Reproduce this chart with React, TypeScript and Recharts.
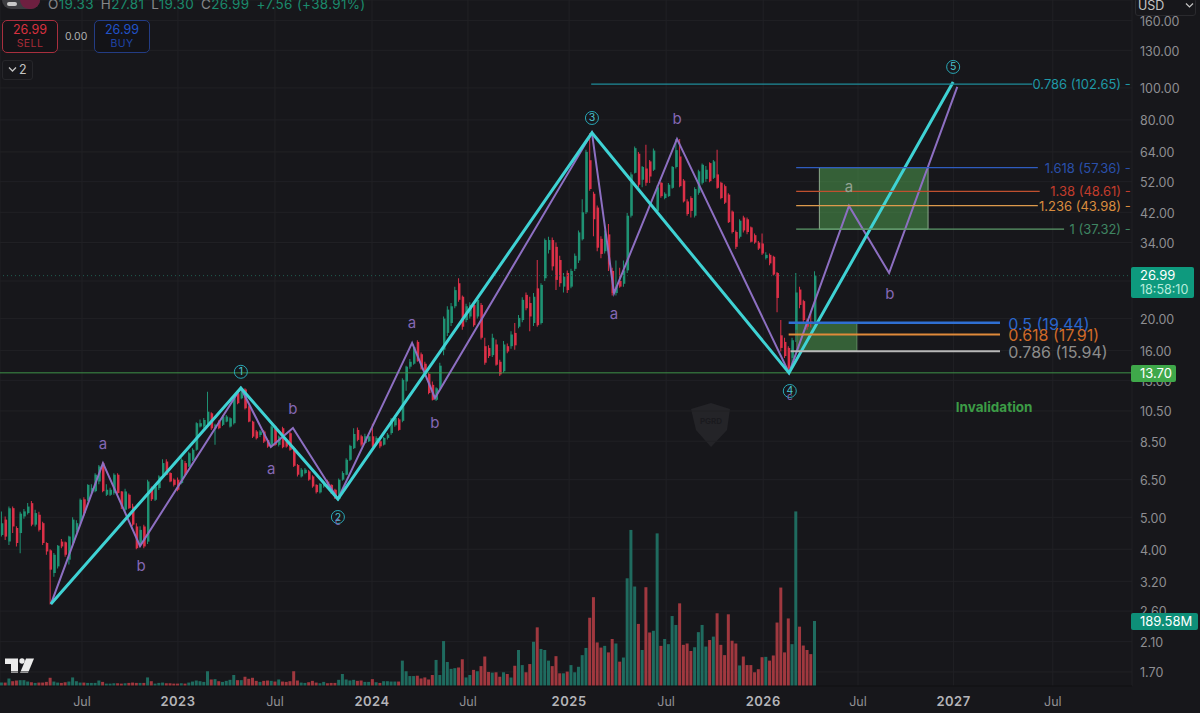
// App.tsx - weekly candles with Elliott wave count and fib levels
import React from "react";
import {
  Bar,
  CartesianGrid,
  Cell,
  ComposedChart,
  Line,
  ReferenceArea,
  ReferenceDot,
  ReferenceLine,
  XAxis,
  YAxis,
} from "recharts";

const FONT = "Inter, 'Noto Sans', sans-serif";
const BG = "#17171b";
const UP = "#1f9273";
const DOWN = "#dc3048";
const VOL_UP = "#1f6b5f";
const VOL_DOWN = "#a0383f";

// weekly candles, oldest first
const opens = [
  4.42, 4.92, 4.22, 5.33, 4.64, 4.48, 5.03, 5.15, 5.52, 4.75,
  5.09, 4.8, 4.18, 3.97, 3.39, 3.55, 4.22, 4.2, 3.72, 4.18,
  4.58, 4.8, 5.67, 5.65, 5.92, 6.0, 6.42, 7.3, 5.85, 5.85,
  5.92, 6.73, 5.99, 5.27, 5.85, 5.39, 4.69, 4.13, 4.69, 4.22,
  6.13, 5.65, 6.13, 6.73, 7.38, 6.81, 6.5, 6.5, 6.35, 7.3,
  7.13, 7.47, 8.01, 9.42, 9.42, 9.64, 10.33, 9.3, 9.75, 9.53,
  9.75, 9.42, 9.64, 11.88, 11.47, 12.2, 10.83, 9.75, 9.1, 8.88,
  9.1, 8.58, 8.29, 9.42, 8.29, 9.31, 8.58, 8.99, 8.1, 7.2,
  6.65, 6.81, 6.89, 6.65, 6.27, 5.95, 6.2, 6.42, 6.27, 6.06,
  5.68, 6.5, 6.73, 7.47, 8.1, 9.2, 8.8, 8.4, 8.5, 8.8,
  8.4, 8.5, 8.3, 8.7, 9.0, 9.5, 9.9, 9.8, 12.9, 14.3,
  14.6, 17.0, 15.6, 14.6, 13.6, 12.6, 11.35, 12.3, 16.1, 18.1,
  19.4, 21.8, 25.6, 23.3, 19.8, 20.3, 22.0, 20.3, 22.0, 16.5,
  16.3, 15.5, 16.7, 14.8, 13.85, 16.5, 16.5, 18.1, 18.9, 19.8,
  23.6, 22.3, 19.4, 24.7, 19.4, 26.5, 32.3, 34.6, 33.0, 30.1,
  25.0, 27.5, 25.0, 28.3, 30.0, 34.8, 42.0, 60.4, 47.8, 43.4,
  34.9, 32.0, 36.0, 27.9, 23.9, 26.0, 25.5, 28.0, 41.0, 55.3,
  63.2, 52.7, 57.0, 59.9, 56.5, 42.4, 51.6, 46.4, 47.0, 49.8,
  57.6, 62.0, 52.4, 45.3, 46.4, 41.0, 48.1, 51.6, 53.0, 59.2,
  53.4, 54.7, 51.6, 50.4, 47.5, 42.2, 36.6, 35.4, 40.5, 40.0,
  37.8, 35.8, 34.0, 33.8, 30.5, 31.2, 30.8, 27.5, 17.8, 17.0,
  16.3, 15.2, 18.5, 24.5, 22.6, 19.8, 19.6, 19.33,
];
const highs = [
  5.21, 5.03, 5.39, 5.39, 4.7, 5.2, 5.3, 5.52, 5.6, 5.27,
  5.2, 4.85, 4.2, 4.0, 3.9, 4.12, 4.3, 4.22, 4.4, 5.0,
  4.9, 5.7, 5.75, 6.3, 6.3, 6.8, 7.2, 7.35, 6.3, 6.15,
  6.8, 6.8, 6.0, 6.1, 5.9, 5.5, 4.8, 4.7, 4.75, 6.5,
  6.2, 6.27, 6.7, 7.5, 7.5, 6.85, 6.55, 6.6, 7.55, 7.4,
  7.9, 8.1, 9.7, 9.9, 10.0, 12.0, 10.4, 9.6, 9.85, 10.2,
  10.2, 10.05, 11.6, 12.0, 12.35, 12.3, 10.9, 9.8, 9.2, 9.2,
  9.2, 8.65, 9.5, 9.5, 8.85, 9.4, 8.65, 9.1, 8.2, 7.25,
  7.05, 7.05, 6.95, 6.7, 6.3, 6.35, 6.42, 6.5, 6.3, 6.1,
  6.55, 6.9, 7.55, 8.3, 9.3, 9.35, 8.9, 8.95, 8.9, 9.6,
  8.8, 8.6, 8.75, 9.0, 10.0, 10.2, 10.0, 13.2, 14.4, 15.1,
  16.7, 17.2, 15.8, 14.8, 13.7, 12.9, 12.4, 14.7, 20.3, 21.8,
  22.3, 25.0, 26.5, 23.5, 22.2, 22.4, 22.3, 23.0, 22.3, 17.5,
  16.6, 18.0, 17.3, 15.0, 17.1, 16.8, 18.3, 19.4, 20.5, 23.2,
  24.0, 23.3, 23.9, 30.1, 25.6, 35.0, 35.4, 35.2, 34.0, 31.0,
  27.5, 28.0, 28.3, 31.5, 37.0, 46.0, 65.0, 73.0, 48.5, 44.0,
  35.5, 37.0, 38.7, 28.5, 30.0, 28.5, 30.0, 41.8, 55.5, 66.5,
  64.0, 58.0, 67.3, 60.5, 65.5, 50.7, 52.0, 48.3, 51.5, 58.0,
  70.0, 70.0, 53.0, 46.0, 47.0, 50.0, 56.5, 59.0, 58.0, 59.5,
  60.5, 65.0, 52.0, 51.0, 48.0, 42.5, 37.0, 40.0, 41.0, 40.5,
  38.0, 36.2, 34.4, 36.2, 31.8, 31.5, 31.0, 27.7, 19.8, 17.5,
  16.5, 17.5, 27.5, 25.0, 22.8, 20.0, 21.0, 27.81,
];
const lows = [
  4.37, 4.27, 4.12, 4.48, 4.08, 3.89, 4.95, 5.1, 4.7, 4.69,
  4.53, 4.12, 3.85, 2.72, 3.3, 3.5, 4.03, 3.8, 3.6, 4.1,
  4.5, 4.75, 5.05, 5.6, 5.85, 5.95, 6.3, 5.95, 5.8, 5.8,
  5.85, 5.85, 5.3, 5.2, 5.3, 4.7, 4.0, 4.08, 4.03, 4.15,
  5.6, 5.6, 6.05, 6.65, 6.7, 6.38, 6.2, 6.0, 6.3, 6.7,
  7.1, 7.4, 7.95, 9.35, 9.3, 9.5, 9.2, 8.3, 9.25, 9.45,
  9.7, 9.35, 9.55, 11.0, 11.4, 10.6, 9.7, 8.7, 8.6, 8.75,
  8.4, 8.12, 8.2, 8.22, 8.2, 8.1, 8.12, 7.95, 7.1, 6.65,
  6.6, 6.75, 6.45, 6.15, 5.9, 5.9, 6.15, 6.1, 5.88, 5.68,
  5.62, 6.45, 6.7, 7.4, 8.05, 8.5, 8.2, 8.35, 8.45, 8.15,
  8.35, 8.1, 8.25, 8.6, 8.9, 9.4, 9.15, 9.7, 12.1, 14.1,
  14.5, 14.8, 14.0, 13.4, 11.8, 11.3, 11.25, 12.2, 15.5, 17.7,
  19.0, 21.5, 22.5, 18.5, 19.5, 20.0, 18.9, 20.0, 17.3, 14.5,
  15.2, 15.3, 14.4, 13.4, 13.7, 15.7, 16.2, 16.1, 18.7, 19.5,
  21.2, 18.3, 19.0, 18.9, 19.2, 26.0, 31.5, 28.0, 24.4, 25.0,
  24.0, 23.9, 24.7, 27.9, 29.5, 34.5, 41.5, 48.8, 35.5, 32.0,
  30.5, 31.5, 27.9, 23.5, 23.5, 24.8, 25.0, 27.5, 40.5, 55.0,
  50.0, 50.0, 50.5, 51.5, 56.0, 42.0, 46.5, 46.0, 46.8, 49.5,
  57.0, 50.0, 45.0, 41.0, 40.5, 40.5, 47.5, 51.0, 52.0, 51.8,
  53.0, 49.5, 46.0, 44.5, 39.0, 36.2, 32.5, 35.0, 36.5, 36.0,
  34.0, 33.7, 32.3, 31.2, 30.2, 29.0, 27.0, 20.9, 15.9, 15.2,
  13.7, 14.1, 17.0, 21.5, 19.5, 18.5, 18.8, 19.3,
];
const closes = [
  4.8, 4.37, 5.33, 4.69, 4.18, 5.13, 5.21, 5.39, 4.75, 5.15,
  4.58, 4.18, 3.94, 3.47, 3.85, 4.1, 4.08, 3.85, 4.37, 4.92,
  4.8, 5.65, 5.15, 6.27, 6.13, 6.73, 7.13, 6.0, 6.06, 6.06,
  6.73, 5.92, 5.39, 5.99, 5.33, 4.75, 4.03, 4.58, 4.08, 6.42,
  5.67, 6.2, 6.65, 7.3, 6.73, 6.42, 6.27, 6.06, 7.47, 6.73,
  7.82, 8.01, 9.64, 9.64, 9.86, 10.45, 9.3, 9.53, 9.31, 10.1,
  10.1, 9.98, 11.47, 11.08, 12.3, 10.7, 9.75, 8.78, 8.68, 9.1,
  8.48, 8.19, 9.42, 8.29, 8.78, 8.15, 8.19, 8.01, 7.16, 6.73,
  6.97, 6.97, 6.5, 6.2, 5.96, 6.31, 6.35, 6.13, 5.92, 5.71,
  6.5, 6.81, 7.47, 8.23, 8.94, 8.58, 8.3, 8.8, 8.8, 8.2,
  8.7, 8.2, 8.7, 8.9, 9.9, 10.0, 9.2, 13.05, 14.3, 14.8,
  16.4, 14.9, 14.1, 13.6, 11.9, 11.35, 12.3, 14.4, 20.0, 21.3,
  21.8, 24.4, 22.8, 18.9, 21.8, 22.0, 19.1, 22.8, 17.5, 14.7,
  15.4, 17.5, 14.5, 13.55, 16.7, 15.9, 17.9, 16.6, 20.1, 22.8,
  21.5, 20.3, 23.3, 19.1, 25.3, 34.6, 34.6, 28.8, 26.2, 25.6,
  26.8, 24.4, 27.9, 31.0, 36.5, 42.0, 64.0, 49.4, 40.0, 32.8,
  31.4, 36.0, 29.2, 23.9, 25.0, 25.0, 28.0, 41.0, 54.7, 65.7,
  50.9, 57.6, 51.6, 53.9, 64.6, 50.0, 47.0, 47.8, 50.9, 57.6,
  64.8, 50.4, 45.3, 41.5, 42.4, 49.4, 55.9, 58.5, 56.5, 52.2,
  59.9, 49.8, 46.4, 44.9, 39.2, 36.6, 33.0, 39.6, 37.0, 36.6,
  34.2, 34.0, 32.6, 31.5, 31.2, 29.4, 27.2, 23.1, 16.3, 15.4,
  14.1, 17.2, 24.0, 22.0, 19.8, 18.9, 19.33, 26.99,
];
// volume in millions
const volumes = [
  10, 10, 22, 14, 16, 17, 17, 13, 11, 9,
  10, 10, 12, 24, 13, 10, 9, 11, 13, 25,
  14, 10, 10, 9, 9, 9, 16, 12, 7, 7,
  8, 8, 7, 8, 9, 10, 9, 9, 9, 25,
  14, 7, 9, 10, 8, 8, 7, 7, 8, 7,
  10, 13, 16, 14, 12, 43, 19, 20, 14, 12,
  15, 18, 32, 17, 17, 27, 21, 24, 15, 12,
  15, 16, 15, 13, 19, 13, 12, 14, 43, 16,
  10, 9, 11, 15, 10, 8, 12, 8, 9, 9,
  18, 35, 19, 16, 18, 15, 16, 12, 12, 20,
  11, 9, 14, 14, 13, 13, 13, 74, 43, 29,
  29, 30, 22, 25, 19, 32, 76, 32, 131, 70,
  50, 52, 54, 78, 25, 32, 47, 43, 58, 86,
  41, 39, 40, 27, 40, 35, 25, 59, 105, 61,
  40, 64, 129, 171, 108, 105, 74, 58, 87, 37,
  37, 42, 61, 40, 56, 90, 111, 199, 259, 127,
  112, 117, 98, 137, 124, 71, 83, 314, 455, 290,
  181, 105, 288, 156, 161, 445, 117, 137, 122, 204,
  178, 241, 120, 124, 102, 113, 157, 178, 115, 134,
  144, 212, 120, 90, 209, 132, 124, 60, 86, 61,
  61, 40, 49, 84, 85, 74, 89, 185, 287, 98,
  197, 122, 509, 173, 118, 105, 93, 189.58,
];

// wave counts: week index and price of each pivot
const mainWave = [
  { i: 13.1, price: 2.73 },
  { i: 63.8, price: 12.33 },
  { i: 89.7, price: 5.68 },
  { i: 157.5, price: 73.1 },
  { i: 210.1, price: 13.69 },
  { i: 253.9, price: 104.3 },
];
const subWave = [
  { i: 13.1, price: 2.73 },
  { i: 27, price: 7.3 },
  { i: 36.9, price: 4.09 },
  { i: 63.8, price: 12.33 },
  { i: 71.8, price: 8.17 },
  { i: 77.7, price: 9.33 },
  { i: 89.7, price: 5.68 },
  { i: 109.5, price: 16.88 },
  { i: 115.6, price: 11.5 },
  { i: 157.5, price: 73.1 },
  { i: 163.4, price: 23.9 },
  { i: 180.2, price: 70.1 },
  { i: 210.1, price: 13.69 },
  { i: 226.1, price: 43.9 },
  { i: 236.8, price: 27.5 },
  { i: 255, price: 100.7 },
];

const waveNumbers = [
  { text: "1", i: 63.8, price: 13.8 },
  { text: "2", i: 89.7, price: 5.01 },
  { text: "3", i: 157.5, price: 81.1 },
  { text: "4", i: 210.3, price: 12.07 },
  { text: "5", i: 253.9, price: 115.8 },
];
const waveLetters = [
  { text: "a", i: 27, price: 8.34 },
  { text: "b", i: 37.2, price: 3.56 },
  { text: "a", i: 71.9, price: 7.01 },
  { text: "b", i: 77.7, price: 10.65 },
  { text: "a", i: 109.5, price: 19.4 },
  { text: "b", i: 115.6, price: 9.66 },
  { text: "a", i: 163.4, price: 20.7 },
  { text: "b", i: 180.2, price: 80.6 },
  { text: "b", i: 237, price: 23.8 },
];
// small sub-wave letters tucked under the circled numbers
const waveEnds = [
  { text: "c", i: 89.7, price: 4.86 },
  { text: "c", i: 210.3, price: 11.62 },
];

const priceTicks = [1.7, 2.1, 2.6, 3.2, 4, 5, 6.5, 8.5, 10.5, 13, 16, 20, 26, 34, 42, 52, 64, 80, 100, 130, 160];
const timeTicks = [21.4, 47, 72.9, 98.8, 124.4, 151.4, 177.3, 203.2, 228.5, 254, 280.5];
const timeLabels = ["Jul", "2023", "Jul", "2024", "Jul", "2025", "Jul", "2026", "Jul", "2027", "Jul"];

const X_DOMAIN = [-0.48, 301.63];
const Y_DOMAIN = [1.541, 184.7];

const candles = closes.map((close, i) => ({
  i,
  open: opens[i],
  high: highs[i],
  low: lows[i],
  close,
  volume: volumes[i],
}));

const isUp = (d: { open: number; close: number }) => d.close >= d.open;

const TimeTick = (props: any) => {
  const { x, y, payload } = props;
  const label = timeLabels[timeTicks.indexOf(payload.value)];
  const isYear = label !== "Jul";
  return (
    <text
      x={x}
      y={y + 12}
      textAnchor="middle"
      fontFamily={FONT}
      fontSize={isYear ? 13 : 12.5}
      fontWeight={isYear ? 600 : 400}
      letterSpacing={isYear ? 0.5 : 0}
      fill={isYear ? "#b4b4b8" : "#909094"}
    >
      {label}
    </text>
  );
};

// text placed in chart coordinates
const note = (key: string, text: string, i: number, price: number, style: any) => (
  <ReferenceDot
    key={key}
    x={i}
    y={price}
    r={0}
    ifOverflow="visible"
    shape={(p: any) => (
      <text x={p.cx} y={p.cy} dominantBaseline="central" fontFamily={FONT} {...style}>
        {text}
      </text>
    )}
  />
);

const waveRing = (key: string, text: string, i: number, price: number) => (
  <ReferenceDot
    key={key}
    x={i}
    y={price}
    r={0}
    ifOverflow="visible"
    shape={(p: any) => (
      <g>
        <circle cx={p.cx} cy={p.cy} r={6.5} fill="none" stroke="#29a9b8" strokeWidth={1} />
        <text
          x={p.cx}
          y={p.cy}
          textAnchor="middle"
          dominantBaseline="central"
          fontFamily={FONT}
          fontSize={10.5}
          fill="#4cc4d0"
        >
          {text}
        </text>
      </g>
    )}
  />
);

const fibLine = (p: number, from: number, to: number, color: string, width: number) => (
  <ReferenceLine
    key={`${p}-${from}`}
    segment={[
      { x: from, y: p },
      { x: to, y: p },
    ]}
    stroke={color}
    strokeWidth={width}
    ifOverflow="visible"
  />
);

const tag = (top: number, left: number, width: number, height: number, background: string): React.CSSProperties => ({
  position: "absolute",
  top,
  left,
  width,
  height,
  background,
  borderRadius: 2,
  fontFamily: FONT,
  color: "#fff",
  textAlign: "left",
  paddingLeft: 9,
  boxSizing: "border-box",
});

const tradeBox = (left: number, border: string): React.CSSProperties => ({
  position: "absolute",
  top: 20,
  left,
  width: 56,
  height: 33,
  border: `1px solid ${border}`,
  borderRadius: 5,
  boxSizing: "border-box",
  background: "#131317",
  textAlign: "center",
  fontFamily: FONT,
});

const Header = () => {
  const item = (k: string, v: string) => (
    <span style={{ marginRight: 7 }}>
      <span style={{ color: "#86868a" }}>{k}</span>
      <span style={{ color: "#1b8a6c" }}>{v}</span>
    </span>
  );
  return (
    <>
      <div style={{ position: "absolute", top: -9, left: 2, width: 38, height: 18, borderRadius: 9, background: "#3c3c40" }} />
      <div style={{ position: "absolute", top: -9, left: 20, width: 20, height: 18, borderRadius: 9, background: "#6e1f40" }} />
      <div style={{ position: "absolute", top: 2, left: 7, width: 10, height: 4, borderRadius: 2, background: "#c8c8c8" }} />
      <div style={{ position: "absolute", top: -4, left: 48, fontFamily: FONT, fontSize: 13.5, whiteSpace: "nowrap", letterSpacing: 0.3 }}>
        {item("O", "19.33")}
        {item("H", "27.81")}
        {item("L", "19.30")}
        {item("C", "26.99")}
        <span style={{ color: "#1b8a6c" }}>+7.56 (+38.91%)</span>
      </div>
      <div style={tradeBox(2, "#a82f3e")}>
        <div style={{ color: "#d8313f", fontSize: 12.5, lineHeight: "15px", marginTop: 1 }}>26.99</div>
        <div style={{ color: "#a82c38", fontSize: 10.5, lineHeight: "13px", letterSpacing: 0.4 }}>SELL</div>
      </div>
      <div style={{ position: "absolute", top: 30, left: 65, color: "#b0b0b0", fontFamily: FONT, fontSize: 10.5 }}>0.00</div>
      <div style={tradeBox(94, "#233c84")}>
        <div style={{ color: "#2152c8", fontSize: 12.5, lineHeight: "15px", marginTop: 1 }}>26.99</div>
        <div style={{ color: "#1f45a8", fontSize: 10.5, lineHeight: "13px", letterSpacing: 0.4 }}>BUY</div>
      </div>
      <div
        style={{
          position: "absolute",
          top: 60,
          left: 2,
          width: 31,
          height: 20,
          border: "1px solid #26262a",
          borderRadius: 3,
          boxSizing: "border-box",
          color: "#c4c4c4",
          fontFamily: FONT,
          fontSize: 12.5,
          lineHeight: "18px",
          paddingLeft: 16,
        }}
      >
        2
      </div>
      <svg style={{ position: "absolute", top: 66, left: 8 }} width={9} height={7}>
        <path d="M1 1.5 L4.5 5 L8 1.5" fill="none" stroke="#c4c4c4" strokeWidth={1.3} />
      </svg>
      <div
        style={{
          position: "absolute",
          top: -2,
          left: 1135,
          width: 61,
          height: 18,
          border: "1px solid #2a2a2e",
          borderRadius: 3,
          boxSizing: "border-box",
          background: BG,
          color: "#c4c4c4",
          fontFamily: FONT,
          fontSize: 12.5,
          lineHeight: "14px",
          paddingLeft: 2,
        }}
      >
        USD
      </div>
      <svg style={{ position: "absolute", top: 2, left: 1185 }} width={9} height={7}>
        <path d="M1 1.5 L4.5 5 L8 1.5" fill="none" stroke="#c4c4c4" strokeWidth={1.2} />
      </svg>
    </>
  );
};

const Decor = () => (
  <svg style={{ position: "absolute", top: 0, left: 0, pointerEvents: "none" }} width={1200} height={713}>
    {/* tradingview mark */}
    <path d="M5 658.5 H18 V673 H11 V664 H5 Z" fill="#ececec" />
    <circle cx={22} cy={661} r={2.7} fill="#ececec" />
    <path d="M26 658.5 H34 L28 673 H20 Z" fill="#ececec" />
    {/* faint watermark */}
    <path d="M691 409 L711 403 L730 409 L727 430 L711 447 L696 430 Z" fill="#242428" />
    <text x={711} y={424} textAnchor="middle" fontFamily={FONT} fontSize={8} fontWeight={700} fill="#1a1a1e">
      PGRD
    </text>
  </svg>
);

export default function App() {
  return (
    <div style={{ position: "fixed", top: 0, left: 0, width: 1200, height: 713, background: BG, overflow: "hidden" }}>
      <Decor />
      <div style={{ position: "absolute", top: 0, left: 0 }}>
        <ComposedChart width={1200} height={713} data={candles} margin={{ top: 0, right: 0, bottom: 0, left: 0 }}>
          <CartesianGrid stroke="#212125" strokeWidth={1} />
          <XAxis
            type="number"
            dataKey="i"
            domain={X_DOMAIN}
            allowDataOverflow
            ticks={timeTicks}
            interval={0}
            height={27}
            axisLine={{ stroke: "#0c0c0e" }}
            tickLine={false}
            tick={<TimeTick />}
          />
          <XAxis xAxisId="vol" type="number" dataKey="i" domain={X_DOMAIN} allowDataOverflow hide />
          <XAxis xAxisId="wick" type="number" dataKey="i" domain={X_DOMAIN} allowDataOverflow hide />
          <XAxis xAxisId="body" type="number" dataKey="i" domain={X_DOMAIN} allowDataOverflow hide />
          <YAxis
            orientation="right"
            width={68}
            type="number"
            scale="log"
            domain={Y_DOMAIN}
            allowDataOverflow
            ticks={priceTicks}
            interval={0}
            axisLine={false}
            tickLine={false}
            tickMargin={2}
            tick={{ fill: "#8e8e92", fontSize: 12.5, fontFamily: FONT, dy: 1 }}
            tickFormatter={(v: number) => v.toFixed(2)}
          />
          <YAxis yAxisId="vol" type="number" domain={[0, 2000]} hide />

          <Bar xAxisId="vol" yAxisId="vol" dataKey="volume" barSize={3} isAnimationActive={false}>
            {candles.map((d) => (
              <Cell key={d.i} fill={isUp(d) ? VOL_UP : VOL_DOWN} />
            ))}
          </Bar>
          <Bar xAxisId="wick" dataKey={(d: any) => [d.low, d.high]} barSize={1} isAnimationActive={false}>
            {candles.map((d) => (
              <Cell key={d.i} fill={isUp(d) ? UP : DOWN} />
            ))}
          </Bar>
          <Bar
            xAxisId="body"
            dataKey={(d: any) => [Math.min(d.open, d.close), Math.max(d.open, d.close)]}
            barSize={2.4}
            isAnimationActive={false}
          >
            {candles.map((d) => (
              <Cell key={d.i} fill={isUp(d) ? UP : DOWN} />
            ))}
          </Bar>

          <ReferenceLine y={26.99} stroke="#1f5f52" strokeDasharray="1 3" />
          <ReferenceLine y={13.7} stroke="#3e9148" />

          <Line data={subWave} dataKey="price" stroke="#8d6fc2" strokeWidth={2} dot={false} activeDot={false} isAnimationActive={false} />
          <Line data={mainWave} dataKey="price" stroke="#3fd2d4" strokeWidth={3} dot={false} activeDot={false} isAnimationActive={false} />

          <ReferenceArea x1={218.2} x2={247.2} y1={37.32} y2={57.36} fill="#53aa53" fillOpacity={0.5} stroke="#8aa88a" ifOverflow="visible" />
          <ReferenceArea x1={212.2} x2={228.2} y1={15.94} y2={19.44} fill="#53aa53" fillOpacity={0.5} stroke="#5f8a5f" ifOverflow="visible" />

          {fibLine(102.65, 157.3, 275, "#1f8c9a", 1.2)}
          {fibLine(57.36, 212, 276.5, "#2f5cc0", 1.2)}
          {fibLine(48.61, 212, 277, "#c0502f", 1.2)}
          {fibLine(43.98, 212, 276.5, "#dd9a4c", 1.2)}
          {fibLine(37.32, 212, 283.5, "#5d9a6a", 1.2)}
          {fibLine(19.44, 210, 266.4, "#2f6fd2", 2.5)}
          {fibLine(17.91, 210, 266.4, "#e08a3a", 2)}
          {fibLine(15.94, 210.5, 266.4, "#b8b8b8", 2)}

          {note("f1", "0.786 (102.65) -", 301.3, 102.65, { fontSize: 13, textAnchor: "end", fill: "#1f98a6" })}
          {note("f2", "1.618 (57.36) -", 301.3, 57.36, { fontSize: 13, textAnchor: "end", fill: "#2a50aa" })}
          {note("f3", "1.38 (48.61) -", 301.3, 48.61, { fontSize: 13, textAnchor: "end", fill: "#c23c2c" })}
          {note("f4", "1.236 (43.98) -", 301.3, 43.98, { fontSize: 13, textAnchor: "end", fill: "#d98c3e" })}
          {note("f5", "1 (37.32) -", 301.3, 37.32, { fontSize: 13, textAnchor: "end", fill: "#3f8562" })}
          {note("g1", "0.5 (19.44)", 268.6, 19.3, { fontSize: 16, fill: "#2a66cc" })}
          {note("g2", "0.618 (17.91)", 268.6, 17.8, { fontSize: 16, fill: "#cf6a28" })}
          {note("g3", "0.786 (15.94)", 268.6, 15.85, { fontSize: 16, fill: "#8c8c8c" })}
          {note("inv", "Invalidation", 254.6, 10.8, { fontSize: 13.5, fontWeight: 700, fill: "#3c9c46" })}

          {waveLetters.map((w, n) =>
            note(`l${n}`, w.text, w.i, w.price, { fontSize: 15, textAnchor: "middle", fill: "#8468b4" })
          )}
          {note("la", "a", 226.1, 50.1, { fontSize: 15, textAnchor: "middle", fill: "#93a393" })}
          {waveNumbers.map((w, n) => waveRing(`w${n}`, w.text, w.i, w.price))}
          {waveEnds.map((w, n) =>
            note(`e${n}`, w.text, w.i, w.price, { fontSize: 10, textAnchor: "middle", fill: "#8468b4" })
          )}
        </ComposedChart>
      </div>

      <Header />

      <div style={tag(267, 1131, 63, 31, "#0e9a7e")}>
        <div style={{ fontSize: 13, lineHeight: "15px", marginTop: 1 }}>26.99</div>
        <div style={{ fontSize: 12.5, lineHeight: "14px", color: "#b6ecdc" }}>18:58:10</div>
      </div>
      <div style={{ ...tag(365, 1131, 45, 17, "#3fa84a"), fontSize: 13, lineHeight: "17px" }}>13.70</div>
      <div style={{ ...tag(613, 1131, 67, 17, "#0e8f78"), fontSize: 13, lineHeight: "17px" }}>189.58M</div>
    </div>
  );
}
